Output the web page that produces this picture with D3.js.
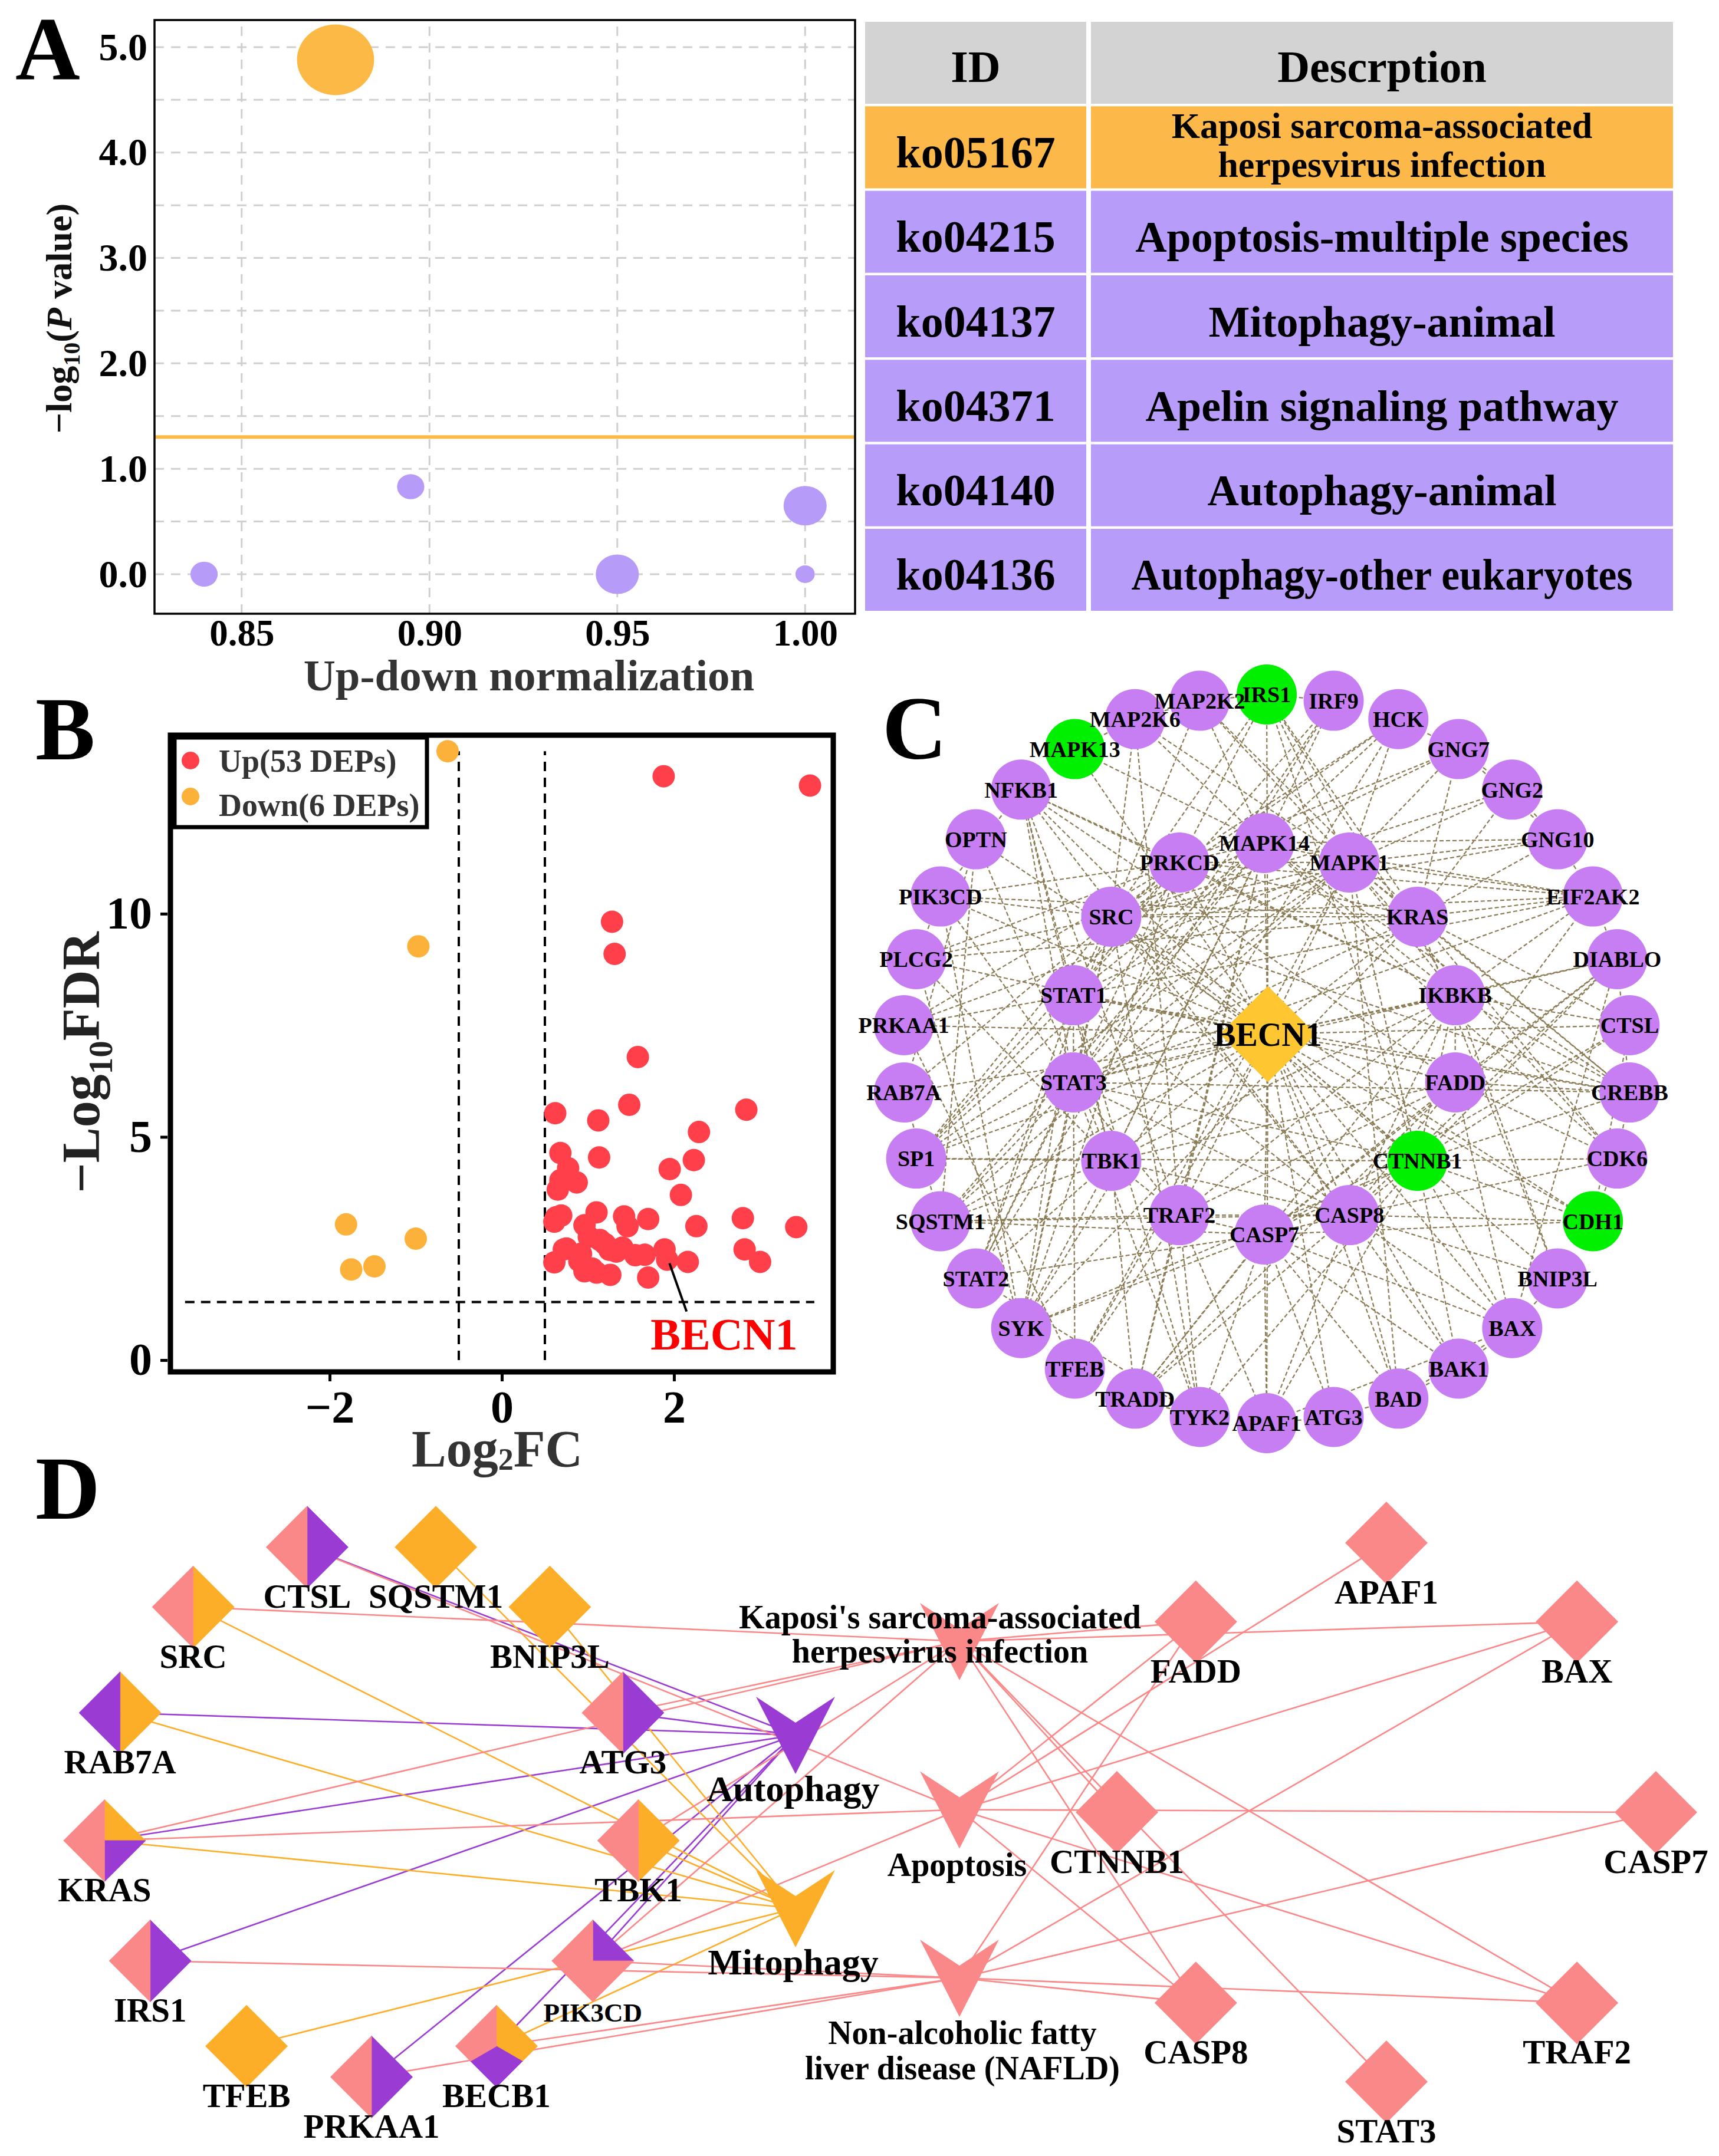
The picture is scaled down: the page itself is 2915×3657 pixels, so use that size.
<!DOCTYPE html>
<html>
<head>
<meta charset="utf-8">
<script src="https://cdn.jsdelivr.net/npm/d3@7"></script>
<style>
  body { margin: 0; background: #fff; }
  svg text { font-family: "Liberation Serif", "Times New Roman", Times, serif; font-weight: bold; }
</style>
</head>
<body>
<svg id="fig" width="2915" height="3657"></svg>
<script>
// ---------- data: panel A (KEGG enrichment) ----------
const keggIds = ["ko05167", "ko04215", "ko04137", "ko04371", "ko04140", "ko04136"];
const keggDesc = [
  ["Kaposi sarcoma-associated", "herpesvirus infection"],
  ["Apoptosis-multiple species"],
  ["Mitophagy-animal"],
  ["Apelin signaling pathway"],
  ["Autophagy-animal"],
  ["Autophagy-other eukaryotes"]
];
const keggNorm = [0.875, 0.895, 1.00, 0.84, 0.95, 1.00];
const keggLogP = [4.88, 0.83, 0.65, 0.0, 0.0, 0.0];
const keggGenes = [16, 2, 5, 2, 5, 1];
const aYTicks = [0, 1, 2, 3, 4, 5];
const aXTicks = [0.85, 0.90, 0.95, 1.00];

// ---------- data: panel B (volcano) ----------
const upFC = [1.88, 3.58, 1.28, 1.31, 1.58, 0.62, 1.12, 1.48, 2.84, 2.29,
  0.68, 1.13, 2.23, 1.95, 0.77, 0.68, 0.87, 0.65, 2.08, 0.69,
  0.61, 1.10, 0.96, 1.42, 1.46, 1.70, 2.26, 2.80, 3.42, 1.01,
  1.14, 0.72, 0.92, 0.61, 1.25, 1.40, 1.33, 1.66, 1.89, 1.92,
  2.16, 2.82, 3.00, 0.96, 1.10, 1.26, 1.70,
  0.63, 0.75, 1.05, 1.20, 0.90, 1.55];
const upFDR = [13.08, 12.87, 9.82, 9.10, 6.79, 5.53, 5.37, 5.72, 5.61, 5.11,
  4.64, 4.54, 4.48, 4.28, 4.30, 4.03, 3.98, 3.82, 3.70, 3.24,
  3.10, 3.31, 3.02, 3.22, 3.00, 3.16, 3.00, 3.18, 2.98, 2.76,
  2.69, 2.48, 2.38, 2.19, 2.47, 2.52, 2.43, 2.36, 2.48, 2.25,
  2.20, 2.48, 2.20, 1.99, 1.96, 1.91, 1.85,
  3.20, 2.50, 2.05, 2.60, 2.22, 2.35];
const downFC = [-0.63, -0.97, -1.81, -1.00, -1.75, -1.48];
const downFDR = [13.64, 9.27, 3.04, 2.72, 2.03, 2.10];
const bLabel = {name: "BECN1", index: 39};
const bXTicks = [-2, 0, 2];
const bYTicks = [0, 5, 10];
const fcCut = 0.5, fdrCut = 1.3;

// ---------- data: panel C (PPI network) ----------
const cOuter = ["APAF1", "ATG3", "BAD", "BAK1", "BAX", "BNIP3L", "CDH1", "CDK6", "CREBB", "CTSL",
  "DIABLO", "EIF2AK2", "GNG10", "GNG2", "GNG7", "HCK", "IRF9", "IRS1", "MAP2K2", "MAP2K6",
  "MAPK13", "NFKB1", "OPTN", "PIK3CD", "PLCG2", "PRKAA1", "RAB7A", "SP1", "SQSTM1", "STAT2",
  "SYK", "TFEB", "TRADD", "TYK2"];
const cInner = ["CASP7", "CASP8", "CTNNB1", "FADD", "IKBKB", "KRAS", "MAPK1", "MAPK14",
  "PRKCD", "SRC", "STAT1", "STAT3", "TBK1", "TRAF2"];
const cHub = "BECN1";
const cGreen = ["IRS1", "MAPK13", "CTNNB1", "CDH1"];
const cLinks = {
  BECN1: "MAPK14 MAPK1 PRKCD SRC STAT1 STAT3 TBK1 TRAF2 CASP7 CASP8 CTNNB1 FADD IKBKB KRAS IRS1 APAF1 ATG3 BAD BAK1 BAX BNIP3L CDH1 PIK3CD PRKAA1 SQSTM1 RAB7A TFEB OPTN CTSL DIABLO MAPK13 NFKB1 PLCG2 SP1 CREBB",
  SRC: "MAPK14 MAPK1 PRKCD STAT1 STAT3 CTNNB1 CDH1 KRAS IRS1 PIK3CD PLCG2 SYK HCK CREBB EIF2AK2 GNG2 GNG7 GNG10 CASP8 TYK2 STAT2 SP1 MAP2K2 MAP2K6",
  STAT3: "STAT1 STAT2 MAPK1 MAPK14 CREBB SP1 TYK2 SYK CTNNB1 EIF2AK2 NFKB1 IRF9 IKBKB TRAF2 KRAS CASP8 PIK3CD SQSTM1 TFEB",
  STAT1: "STAT2 IRF9 TYK2 MAPK14 MAPK1 CREBB SP1 EIF2AK2 NFKB1 SYK TBK1 PRKCD CASP8 PRKAA1",
  MAPK1: "MAPK14 MAP2K2 MAP2K6 KRAS SP1 CREBB CTNNB1 PRKCD IKBKB HCK GNG2 GNG7 GNG10 EIF2AK2 CDK6 BAD SQSTM1 IRS1 TFEB PRKAA1",
  MAPK14: "MAP2K6 MAP2K2 MAPK13 CREBB SP1 PRKCD TRAF2 TBK1 HCK GNG10 EIF2AK2 CDK6 SQSTM1 TRADD IKBKB",
  CASP8: "FADD CASP7 TRADD TRAF2 APAF1 BAX BAK1 BAD DIABLO CTNNB1 TBK1 IKBKB BNIP3L CDH1 CDK6 SQSTM1 NFKB1",
  CASP7: "APAF1 DIABLO FADD BAX BAK1 BAD TRAF2 TRADD CTNNB1 CDH1 SYK TYK2 STAT2 ATG3 SQSTM1 CTSL",
  FADD: "TRADD TRAF2 IKBKB DIABLO CREBB CDK6 BAX TBK1 NFKB1 EIF2AK2",
  TRAF2: "TRADD TBK1 IKBKB NFKB1 MAP2K6 SQSTM1 TYK2 TFEB APAF1",
  TBK1: "IKBKB OPTN SQSTM1 IRF9 STAT2 SYK NFKB1 TRADD SP1 PLCG2",
  IKBKB: "NFKB1 CREBB CTNNB1 EIF2AK2 TRADD IRS1 PRKCD DIABLO CTSL BNIP3L",
  KRAS: "PIK3CD MAP2K2 PLCG2 GNG2 GNG7 GNG10 IRS1 SYK PRKCD CDK6 CREBB EIF2AK2 BNIP3L CTSL",
  PRKCD: "PLCG2 SYK HCK IRS1 PIK3CD STAT2 SP1 NFKB1 GNG7 EIF2AK2 RAB7A PRKAA1",
  CTNNB1: "CDH1 CREBB SP1 CDK6 DIABLO CTSL IRS1 BAX BAK1 TYK2 APAF1 SYK",
  BAX: "BAK1 BAD BNIP3L APAF1 DIABLO", BAK1: "BAD", CDH1: "CTSL CDK6", CREBB: "CDK6 DIABLO",
  GNG2: "GNG7 GNG10", GNG7: "GNG10", PLCG2: "SYK PIK3CD", PIK3CD: "SYK NFKB1", RAB7A: "SQSTM1 OPTN",
  OPTN: "SQSTM1", TFEB: "PRKAA1", ATG3: "APAF1 BAD", STAT2: "IRF9 TYK2", MAP2K2: "MAP2K6",
  MAPK13: "MAP2K6", TRADD: "TYK2", EIF2AK2: "GNG10 DIABLO", IRS1: "MAP2K2 IRF9", HCK: "GNG7 SYK"
};

// ---------- data: panel D (gene - pathway network) ----------
const dLeft = ["PRKAA1", "TFEB", "IRS1", "KRAS", "RAB7A", "SRC", "CTSL", "SQSTM1", "BNIP3L", "ATG3", "TBK1", "PIK3CD", "BECB1"];
const dRight = ["APAF1", "BAX", "CASP7", "TRAF2", "STAT3", "CASP8", "CTNNB1", "FADD"];
const dAutoCol = ["Autophagy", "Mitophagy"];
const dPinkCol = ["KSHV", "Apoptosis", "NAFLD"];
const dPathLabel = {
  Autophagy: ["Autophagy"], Mitophagy: ["Mitophagy"],
  KSHV: ["Kaposi's sarcoma-associated", "herpesvirus infection"],
  Apoptosis: ["Apoptosis"], NAFLD: ["Non-alcoholic fatty", "liver disease (NAFLD)"]
};
const dPathKind = {Autophagy: "A", Mitophagy: "M", KSHV: "P", Apoptosis: "P", NAFLD: "P"};
const dSlices = {
  PRKAA1: "AP", TFEB: "M", IRS1: "AP", KRAS: "MAPP", RAB7A: "MA", SRC: "MP", CTSL: "AP",
  SQSTM1: "M", BNIP3L: "M", ATG3: "AP", TBK1: "MP", PIK3CD: "APPP", BECB1: "MAP",
  APAF1: "P", BAX: "P", CASP7: "P", TRAF2: "P", STAT3: "P", CASP8: "P", CTNNB1: "P", FADD: "P"
};
const dEdges = [
  ["CTSL", "Autophagy"], ["RAB7A", "Autophagy"], ["ATG3", "Autophagy"], ["KRAS", "Autophagy"],
  ["IRS1", "Autophagy"], ["PIK3CD", "Autophagy"], ["PRKAA1", "Autophagy"], ["BECB1", "Autophagy"],
  ["SQSTM1", "Mitophagy"], ["BNIP3L", "Mitophagy"], ["SRC", "Mitophagy"], ["RAB7A", "Mitophagy"],
  ["KRAS", "Mitophagy"], ["TBK1", "Mitophagy"], ["TFEB", "Mitophagy"], ["BECB1", "Mitophagy"],
  ["SRC", "KSHV"], ["KRAS", "KSHV"], ["ATG3", "KSHV"], ["TBK1", "KSHV"], ["PIK3CD", "KSHV"],
  ["CTSL", "Apoptosis"], ["KRAS", "Apoptosis"], ["PIK3CD", "Apoptosis"],
  ["IRS1", "NAFLD"], ["PIK3CD", "NAFLD"], ["PRKAA1", "NAFLD"], ["BECB1", "NAFLD"],
  ["FADD", "KSHV"], ["FADD", "Apoptosis"], ["FADD", "NAFLD"], ["APAF1", "Apoptosis"],
  ["BAX", "KSHV"], ["BAX", "Apoptosis"], ["BAX", "NAFLD"], ["CTNNB1", "KSHV"],
  ["CASP7", "Apoptosis"], ["CASP7", "NAFLD"], ["CASP8", "KSHV"], ["CASP8", "Apoptosis"],
  ["CASP8", "NAFLD"], ["TRAF2", "KSHV"], ["TRAF2", "Apoptosis"], ["TRAF2", "NAFLD"], ["STAT3", "KSHV"]
];

// ---------- drawing ----------
const svg = d3.select("#fig");
svg.append("rect").attr("width", 2915).attr("height", 3657).attr("fill", "#fff");

const ORANGE = "#fdb946", LILAC = "#b69bf8";

function panelLetter(t, x, y) {
  svg.append("text").attr("x", x).attr("y", y).attr("font-size", 152).attr("fill", "#000").text(t);
}
function styleTicks(g, size) {
  g.selectAll("text").attr("font-size", size).attr("fill", "#000")
    .attr("font-family", null);
}

// ===== Panel A =====
panelLetter("A", 26, 134);
const aX = d3.scaleLinear().domain([0.8268, 1.0133]).range([262, 1450]);
const aY = d3.scaleLinear().domain([-0.375, 5.257]).range([1041, 34]);
const aR = d3.scaleSqrt().domain([0, 16]).range([0, 60]);
const gA = svg.append("g");

gA.append("g").selectAll("line").data(d3.range(0, 5.01, 0.5)).join("line")
  .attr("x1", aX.range()[0]).attr("x2", aX.range()[1])
  .attr("y1", d => aY(d)).attr("y2", d => aY(d))
  .attr("stroke", "#cfcfcf").attr("stroke-width", 3).attr("stroke-dasharray", "16,12");
gA.append("g").selectAll("line").data(aXTicks).join("line")
  .attr("x1", d => aX(d)).attr("x2", d => aX(d))
  .attr("y1", aY.range()[0]).attr("y2", aY.range()[1])
  .attr("stroke", "#cfcfcf").attr("stroke-width", 3).attr("stroke-dasharray", "16,12");

gA.append("line").attr("x1", aX.range()[0]).attr("x2", aX.range()[1])
  .attr("y1", aY(1.301)).attr("y2", aY(1.301))
  .attr("stroke", ORANGE).attr("stroke-width", 6);

gA.append("g").selectAll("ellipse").data(keggIds).join("ellipse")
  .attr("cx", (d, i) => aX(keggNorm[i]))
  .attr("cy", (d, i) => aY(keggLogP[i]))
  .attr("rx", (d, i) => aR(keggGenes[i]) * 1.09)
  .attr("ry", (d, i) => aR(keggGenes[i]))
  .attr("fill", (d, i) => keggLogP[i] > 1.301 ? ORANGE : LILAC);

gA.append("rect").attr("x", 262).attr("y", 34).attr("width", 1450 - 262).attr("height", 1041 - 34)
  .attr("fill", "none").attr("stroke", "#000").attr("stroke-width", 3.5);

gA.append("g").attr("transform", "translate(262,0)")
  .call(d3.axisLeft(aY).tickValues(aYTicks).tickFormat(d3.format(".1f")).tickSize(0).tickPadding(12))
  .call(g => g.select(".domain").remove())
  .call(g => styleTicks(g, 66));
gA.append("g").attr("transform", "translate(0,1041)")
  .call(d3.axisBottom(aX).tickValues(aXTicks).tickFormat(d3.format(".2f")).tickSize(0).tickPadding(9))
  .call(g => g.select(".domain").remove())
  .call(g => styleTicks(g, 63));

gA.append("text").attr("x", 897).attr("y", 1171).attr("text-anchor", "middle")
  .attr("font-size", 75).attr("fill", "#333").text("Up-down normalization");
const aYl = gA.append("text").attr("transform", "translate(121,540) rotate(-90)")
  .attr("text-anchor", "middle").attr("font-size", 62).attr("fill", "#111");
aYl.append("tspan").text("\u2212log");
aYl.append("tspan").attr("font-size", 40).attr("dy", 14).text("10");
aYl.append("tspan").attr("dy", -14).text("(");
aYl.append("tspan").attr("font-style", "italic").text("P");
aYl.append("tspan").text(" value)");

// table
const rows = ["head", ...keggIds];
const tRow = d3.scaleBand().domain(rows).range([37, 1036]).paddingInner(0.03);
const col1 = [1467, 1842], col2 = [1850, 2837];
const gT = svg.append("g");
const rowFill = (d, i) => i === 0 ? "#d3d3d3" : (keggLogP[i - 1] > 1.301 ? "#fcb848" : "#b79cf9");
[col1, col2].forEach(col => {
  gT.append("g").selectAll("rect").data(rows).join("rect")
    .attr("x", col[0]).attr("width", col[1] - col[0])
    .attr("y", d => tRow(d)).attr("height", tRow.bandwidth())
    .attr("fill", rowFill);
});
const c1x = (col1[0] + col1[1]) / 2, c2x = (col2[0] + col2[1]) / 2;
const rowMid = d => tRow(d) + tRow.bandwidth() / 2;
gT.append("text").attr("x", c1x).attr("y", rowMid("head") + 32).attr("text-anchor", "middle")
  .attr("font-size", 76).text("ID");
gT.append("text").attr("x", c2x).attr("y", rowMid("head") + 32).attr("text-anchor", "middle")
  .attr("font-size", 76).text("Descrption");
keggIds.forEach((id, i) => {
  gT.append("text").attr("x", c1x).attr("y", rowMid(id) + 34).attr("text-anchor", "middle")
    .attr("font-size", 76).text(id);
  const lines = keggDesc[i];
  if (lines.length === 1) {
    const t = gT.append("text").attr("x", c2x).attr("y", rowMid(id) + 34).attr("text-anchor", "middle")
      .attr("font-size", 74).text(lines[0]);
    if (t.node().getComputedTextLength() > 850) t.attr("textLength", 850).attr("lengthAdjust", "spacingAndGlyphs");
  } else {
    lines.forEach((l, j) => {
      gT.append("text").attr("x", c2x).attr("y", rowMid(id) - 16 + j * 66).attr("text-anchor", "middle")
        .attr("font-size", 62).text(l);
    });
  }
});

// ===== Panel B =====
panelLetter("B", 60, 1288);
const bX = d3.scaleLinear().domain([-3.85, 3.85]).range([289, 1413]);
const bY = d3.scaleLinear().domain([-0.264, 14.0]).range([2327, 1247]);
const gB = svg.append("g");
const fdrMax = d3.max(upFDR.concat(downFDR));
gB.append("g").selectAll("line").data([-fcCut, fcCut]).join("line")
  .attr("x1", d => bX(d)).attr("x2", d => bX(d)).attr("y1", bY(0)).attr("y2", bY(fdrMax))
  .attr("stroke", "#000").attr("stroke-width", 4).attr("stroke-dasharray", "16,11");
gB.append("line").attr("x1", bX(-3.68)).attr("x2", bX(3.63)).attr("y1", bY(fdrCut)).attr("y2", bY(fdrCut))
  .attr("stroke", "#000").attr("stroke-width", 4).attr("stroke-dasharray", "16,11");

gB.append("g").selectAll("circle").data(upFC).join("circle")
  .attr("cx", d => bX(d)).attr("cy", (d, i) => bY(upFDR[i])).attr("r", 19).attr("fill", "#ff404a");
gB.append("g").selectAll("circle").data(downFC).join("circle")
  .attr("cx", d => bX(d)).attr("cy", (d, i) => bY(downFDR[i])).attr("r", 19).attr("fill", "#fcb13a");

// BECN1 annotation
const bx0 = bX(upFC[bLabel.index]), by0 = bY(upFDR[bLabel.index]);
gB.append("line").attr("x1", bx0 + 4).attr("y1", by0 + 6).attr("x2", bx0 + 33).attr("y2", by0 + 88)
  .attr("stroke", "#000").attr("stroke-width", 4);
gB.append("text").attr("x", bx0 - 28).attr("y", by0 + 152).attr("font-size", 76)
  .attr("fill", "#ff0000").text(bLabel.name);

gB.append("rect").attr("x", 289).attr("y", 1247).attr("width", 1413 - 289).attr("height", 2327 - 1247)
  .attr("fill", "none").attr("stroke", "#000").attr("stroke-width", 9);

gB.append("g").attr("transform", "translate(284,0)")
  .call(d3.axisLeft(bY).tickValues(bYTicks).tickSize(12).tickPadding(14))
  .call(g => g.select(".domain").remove())
  .call(g => g.selectAll("line").attr("stroke", "#000").attr("stroke-width", 5))
  .call(g => styleTicks(g, 78));
gB.append("g").attr("transform", "translate(0,2331)")
  .call(d3.axisBottom(bX).tickValues(bXTicks).tickSize(12).tickPadding(15))
  .call(g => g.select(".domain").remove())
  .call(g => g.selectAll("line").attr("stroke", "#000").attr("stroke-width", 5))
  .call(g => styleTicks(g, 78));

// legend
const gL = gB.append("g");
gL.append("rect").attr("x", 296).attr("y", 1251).attr("width", 428).attr("height", 152)
  .attr("fill", "#fff").attr("stroke", "#000").attr("stroke-width", 7);
const legItems = [["Up(" + upFC.length + " DEPs)", "#ff404a", 1290, 1309],
  ["Down(" + downFC.length + " DEPs)", "#fcb13a", 1351, 1384]];
legItems.forEach(([t, c, cy, ty]) => {
  gL.append("circle").attr("cx", 323).attr("cy", cy).attr("r", 15).attr("fill", c);
  gL.append("text").attr("x", 371).attr("y", ty).attr("font-size", 54).attr("fill", "#333").text(t);
});

// axis titles
const bXt = gB.append("text").attr("x", 843).attr("y", 2487).attr("text-anchor", "middle")
  .attr("font-size", 88).attr("fill", "#333");
bXt.append("tspan").text("Log");
bXt.append("tspan").attr("font-size", 52).attr("dy", 6).text("2");
bXt.append("tspan").attr("dy", -6).text("FC");
const bYt = gB.append("text").attr("transform", "translate(168,1802) rotate(-90)")
  .attr("text-anchor", "middle").attr("font-size", 90).attr("fill", "#222");
bYt.append("tspan").text("\u2212Log");
bYt.append("tspan").attr("font-size", 57).attr("dy", 22).text("10");
bYt.append("tspan").attr("dy", -22).text("FDR");

// ===== Panel C =====
panelLetter("C", 1496, 1287);
const gC = svg.append("g");
const ringOut = {cx: 2148, cy: 1796, r: 618}, ringIn = {cx: 2144, cy: 1762, r: 332}, hubPos = [2150, 1754];
const angOut = d3.scaleLinear().domain([0, cOuter.length]).range([0, 2 * Math.PI]);
const angIn = d3.scaleLinear().domain([0, cInner.length]).range([0, 2 * Math.PI]);
const cPos = {};
cOuter.forEach((n, i) => cPos[n] = [ringOut.cx + ringOut.r * Math.sin(angOut(i)), ringOut.cy + ringOut.r * Math.cos(angOut(i))]);
cInner.forEach((n, i) => cPos[n] = [ringIn.cx + ringIn.r * Math.sin(angIn(i)), ringIn.cy + ringIn.r * Math.cos(angIn(i))]);
cPos[cHub] = hubPos;

const seen = new Set(), cEdgeList = [];
Object.entries(cLinks).forEach(([s, ts]) => ts.split(" ").forEach(t => {
  const k = [s, t].sort().join("|");
  if (!seen.has(k) && cPos[t]) { seen.add(k); cEdgeList.push([s, t]); }
}));
gC.append("g").selectAll("line").data(cEdgeList).join("line")
  .attr("x1", d => cPos[d[0]][0]).attr("y1", d => cPos[d[0]][1])
  .attr("x2", d => cPos[d[1]][0]).attr("y2", d => cPos[d[1]][1])
  .attr("stroke", "#8b7c55").attr("stroke-width", 2.2).attr("stroke-dasharray", "7,4");

const cNodes = cOuter.concat(cInner);
gC.append("g").selectAll("circle").data(cNodes).join("circle")
  .attr("cx", d => cPos[d][0]).attr("cy", d => cPos[d][1]).attr("r", 51)
  .attr("fill", d => cGreen.includes(d) ? "#00f000" : "#c77ef3");
gC.append("path").attr("transform", `translate(${hubPos[0]},${hubPos[1]})`)
  .attr("d", d3.symbol(d3.symbolDiamond2, 2 * 92 * 92)()).attr("fill", "#fec631");
gC.append("g").selectAll("text").data(cNodes).join("text")
  .attr("x", d => cPos[d][0]).attr("y", d => cPos[d][1]).attr("dy", "0.35em")
  .attr("text-anchor", "middle").attr("font-size", 38).attr("fill", "#000").text(d => d);
gC.append("text").attr("x", hubPos[0]).attr("y", hubPos[1]).attr("dy", "0.35em")
  .attr("text-anchor", "middle").attr("font-size", 56).text(cHub);

// ===== Panel D =====
panelLetter("D", 60, 2576);
const gD = svg.append("g");
const kindColor = {A: "#9a3cd4", M: "#fdae28", P: "#fa8888"};
const leftRing = {cx: 630, cy: 3067, r: 456}, rightRing = {cx: 2351, cy: 3074, r: 457};
const angL = d3.scaleLinear().domain([0, dLeft.length]).range([0, 2 * Math.PI]);
const angR = d3.scaleLinear().domain([0, dRight.length]).range([0, 2 * Math.PI]);
const dPos = {};
dLeft.forEach((n, i) => dPos[n] = [leftRing.cx - leftRing.r * Math.sin(angL(i)), leftRing.cy + leftRing.r * Math.cos(angL(i))]);
dRight.forEach((n, i) => dPos[n] = [rightRing.cx + rightRing.r * Math.sin(angR(i)), rightRing.cy - rightRing.r * Math.cos(angR(i))]);
const autoY = d3.scalePoint().domain(dAutoCol).range([2943, 3237]);
const pinkY = d3.scalePoint().domain(dPinkCol).range([2784, 3355]);
dAutoCol.forEach(p => dPos[p] = [1349, autoY(p)]);
dPinkCol.forEach(p => dPos[p] = [1627, pinkY(p)]);

gD.append("g").selectAll("line").data(dEdges).join("line")
  .attr("x1", d => dPos[d[0]][0]).attr("y1", d => dPos[d[0]][1])
  .attr("x2", d => dPos[d[1]][0]).attr("y2", d => dPos[d[1]][1])
  .attr("stroke", d => kindColor[dPathKind[d[1]]]).attr("stroke-width", 2.6);

// V-shaped pathway nodes
const vShape = "M-67,-65 L0,-21 L67,-65 L0,66 Z";
const paths = dAutoCol.concat(dPinkCol);
gD.append("g").selectAll("path").data(paths).join("path")
  .attr("transform", d => `translate(${dPos[d][0]},${dPos[d][1]})`)
  .attr("d", vShape).attr("fill", d => kindColor[dPathKind[d]]);

// gene diamonds with pie slices
const dm = 70;
gD.append("defs").append("clipPath").attr("id", "dclip")
  .append("path").attr("d", `M0,${-dm} L${dm},0 L0,${dm} L${-dm},0 Z`);
const pie = d3.pie().sort(null).value(1);
const arc = d3.arc().innerRadius(0).outerRadius(dm * 1.6);
const genes = dLeft.concat(dRight);
genes.forEach(g => {
  const grp = gD.append("g").attr("transform", `translate(${dPos[g][0]},${dPos[g][1]})`)
    .append("g").attr("clip-path", "url(#dclip)");
  grp.selectAll("path").data(pie(dSlices[g].split(""))).join("path")
    .attr("d", arc).attr("fill", d => kindColor[d.data]).attr("stroke", d => kindColor[d.data]).attr("stroke-width", 0.8);
});
gD.append("g").selectAll("text").data(genes).join("text")
  .attr("x", d => dPos[d][0]).attr("y", d => dPos[d][1] + 103)
  .attr("text-anchor", "middle").attr("font-size", d => d === "PIK3CD" ? 45 : 57).text(d => d);

// pathway labels
paths.forEach(p => {
  const [x, y] = dPos[p];
  const lines = dPathLabel[p];
  const fs = dPathKind[p] === "P" ? 56 : 62;
  if (p === "KSHV") {
    lines.forEach((l, j) => gD.append("text").attr("x", x - 33).attr("y", y - 22 + j * 58)
      .attr("text-anchor", "middle").attr("font-size", fs).text(l));
  } else {
    lines.forEach((l, j) => gD.append("text").attr("x", x + (lines.length > 1 ? 5 : -4)).attr("y", y + 112 + j * 60)
      .attr("text-anchor", "middle").attr("font-size", fs).text(l));
  }
});
</script>
</body>
</html>
